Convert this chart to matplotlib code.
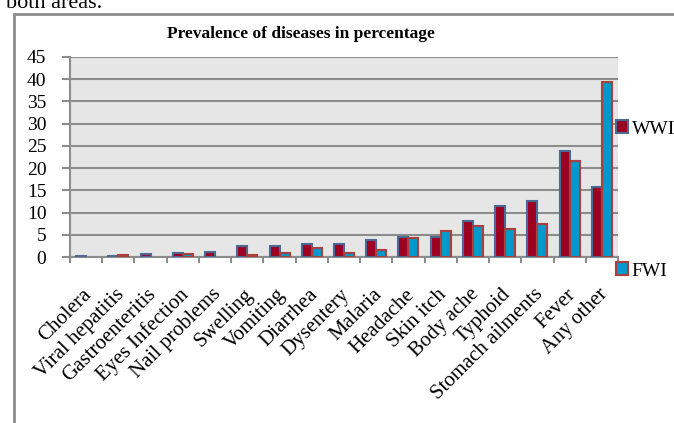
import numpy as np
import matplotlib.pyplot as plt
import matplotlib.transforms as mtransforms
from matplotlib.patches import Rectangle

plt.rcParams['font.family'] = ['Liberation Serif', 'DejaVu Serif']

diseases = ['Cholera', 'Viral hepatitis', 'Gastroenteritis', 'Eyes Infection',
            'Nail problems', 'Swelling', 'Vomiting', 'Diarrhea', 'Dysentery',
            'Malaria', 'Headache', 'Skin itch', 'Body ache', 'Typhoid',
            'Stomach ailments', 'Fever', 'Any other']
wwi = [0.3, 0.3, 0.7, 1.0, 1.2, 2.5, 2.5, 2.9, 2.9, 3.8, 4.4, 4.4, 8.0, 11.5, 12.5, 23.9, 15.8]
fwi = [0.0, 0.5, 0.0, 0.6, 0.0, 0.5, 1.0, 2.0, 1.0, 1.6, 4.3, 5.9, 6.9, 6.3, 7.4, 21.5, 39.3]

W, H = 674, 423
fig = plt.figure(figsize=(W / 100, H / 100), dpi=100)

# chart box border and the tail of the sentence above it
fig.add_artist(Rectangle((13.5 / W, -0.1), 1.2, 1 - 14.5 / H + 0.1,
                         transform=fig.transFigure, fill=False,
                         edgecolor='#8c8c8c', linewidth=2))
fig.text(6 / W, 1 - 8 / H, 'both areas.', fontsize=16, va='baseline', ha='left')

ax = fig.add_axes([70 / W, (H - 257) / H, 548 / W, 200 / H])
ax.set_facecolor('#e6e6e6')

wwi_style = dict(facecolor='#9e0022', edgecolor='#4a6a96', linewidth=1.5)
fwi_style = dict(facecolor='#0099cc', edgecolor='#a8403c', linewidth=1.5)

x = np.arange(len(diseases))
bw = 0.31
b1 = ax.bar(x - bw / 2, wwi, bw, zorder=3, **wwi_style)
b2 = ax.bar(x + bw / 2, fwi, bw, zorder=3, **fwi_style)
# empty bars get no outline
for bars, vals in ((b1, wwi), (b2, fwi)):
    for p, v in zip(bars, vals):
        if v == 0:
            p.set_linewidth(0)

ax.set_xlim(-0.5, len(diseases) - 0.5)
ax.set_ylim(0, 45)
ax.set_yticks(np.arange(0, 46, 5))
ax.grid(axis='y', color='#8c8c8c', linewidth=1.5, zorder=1)
for s in ['top', 'right']:
    ax.spines[s].set_visible(False)
for s in ['left', 'bottom']:
    ax.spines[s].set_color('#8c8c8c')
    ax.spines[s].set_linewidth(1.5)

ax.tick_params(axis='y', length=6, width=1.5, color='#8c8c8c', labelsize=14, pad=11)

# tick marks between categories, labels at category centres
ax.set_xticks(np.arange(-0.5, len(diseases)), minor=False)
ax.set_xticklabels([])
ax.tick_params(axis='x', which='major', length=4, width=1.5, color='#8c8c8c')
ax.set_xticks(x, minor=True)
ax.set_xticklabels(diseases, minor=True, rotation=45, ha='right', va='center',
                   rotation_mode='anchor', fontsize=15)
ax.tick_params(axis='x', which='minor', length=0, pad=25)
shift = mtransforms.ScaledTranslation(3 / 100, 0, fig.dpi_scale_trans)
for lbl in ax.get_xticklabels(minor=True):
    lbl.set_transform(lbl.get_transform() + shift)

fig.text(301 / W, 1 - 34 / H, 'Prevalence of diseases in percentage',
         fontsize=12.5, fontweight='bold', ha='center', va='center')

leg_kw = dict(frameon=False, fontsize=14, handlelength=0.6, handleheight=0.6,
              handletextpad=0.2, borderpad=0, borderaxespad=0)
fig.legend([Rectangle((0, 0), 1, 1, **wwi_style)], ['WWI'], loc='center left',
           bbox_to_anchor=(616 / W, 1 - 129 / H), **leg_kw)
fig.legend([Rectangle((0, 0), 1, 1, **fwi_style)], ['FWI'], loc='center left',
           bbox_to_anchor=(616 / W, 1 - 271 / H), **leg_kw)

fig.savefig('out.png', dpi=100)
